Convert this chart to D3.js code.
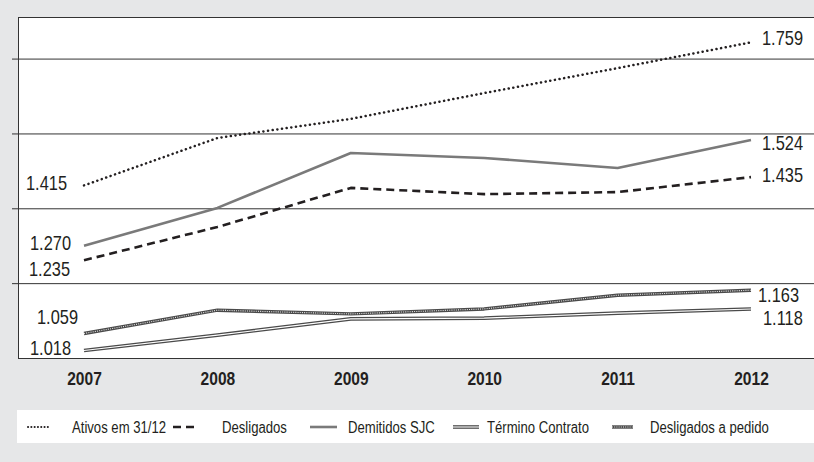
<!DOCTYPE html>
<html><head><meta charset="utf-8">
<script src="https://cdn.jsdelivr.net/npm/d3@7"></script>
<style>
html,body{margin:0;padding:0;background:#e6e7e8;}
svg{display:block;}
text{font-family:"Liberation Sans",Arial,sans-serif;fill:#231f20;}
</style></head>
<body>
<script>
const years = ["2007","2008","2009","2010","2011","2012"];
const seriesNames = ["Ativos em 31/12","Desligados","Demitidos SJC","Término Contrato","Desligados a pedido"];
const ativos     = [1415, 1529, 1575, 1637, 1697, 1759];
const desligados = [1235, 1315, 1409, 1394, 1399, 1435];
const demitidos  = [1270, 1361, 1493, 1481, 1457, 1524];
const termino    = [1018, 1055, 1094, 1096, 1108, 1118];
const aPedido    = [1059, 1115, 1106, 1118, 1151, 1163];
const gridTicks  = [1180, 1360, 1540, 1720];
const yDomain    = [1000, 1820];

const W = 814, H = 462;
const L = 18, R = 814, T = 17, B = 358;
const NARROW = 0.82;

const svg = d3.select("body").append("svg").attr("width", W).attr("height", H);
svg.append("rect").attr("width", W).attr("height", H).attr("fill", "#e6e7e8");
svg.append("rect").attr("x", L).attr("y", T).attr("width", R - L).attr("height", B - T).attr("fill", "#fff");

const x = d3.scalePoint().domain(years).range([84, 751]);
const y = d3.scaleLinear().domain(yDomain).range([B, T]);

function narrowText(px, py, str, size, opts = {}) {
  return svg.append("text")
    .attr("transform", `translate(${px},${py}) scale(${NARROW},1)`)
    .attr("text-anchor", opts.anchor || "start")
    .attr("font-size", size)
    .attr("font-weight", opts.bold ? "bold" : null)
    .text(str);
}

// gridlines + left ticks
const yAxis = d3.axisLeft(y).tickValues(gridTicks).tickSize(6).tickFormat("");
const gy = svg.append("g").attr("transform", `translate(${L},0)`).call(yAxis);
gy.select(".domain").remove();
gy.selectAll(".tick line").attr("stroke", "#333").attr("x2", R - L).attr("x1", -6);

// frame: top, left, bottom
svg.append("line").attr("x1", L).attr("x2", R).attr("y1", T + 0.5).attr("y2", T + 0.5).attr("stroke", "#333");
svg.append("line").attr("x1", L + 0.5).attr("x2", L + 0.5).attr("y1", T).attr("y2", B).attr("stroke", "#333");
svg.append("line").attr("x1", L).attr("x2", R).attr("y1", B + 0.5).attr("y2", B + 0.5).attr("stroke", "#333");

// x axis labels (scaled narrow)
const xAxis = d3.axisBottom(x).tickSize(0).tickPadding(14);
const gx = svg.append("g").attr("transform", `translate(0,${B})`).call(xAxis);
gx.select(".domain").remove();
gx.selectAll("text").attr("font-size", 19).attr("font-weight", "bold")
  .style("font-family", '"Liberation Sans",Arial,sans-serif').attr("fill", "#231f20")
  .attr("transform", `scale(${NARROW},1)`).attr("x", d => 0);
gx.selectAll(".tick").each(function() {
  d3.select(this).select("text").attr("transform", `scale(${NARROW},1)`);
});

const line = d3.line().x((d, i) => x(years[i])).y(d => y(d));

const styles = [
  [{stroke: "#231f20", w: 2.5, dash: "0.1,4.6", cap: "round"}],
  [{stroke: "#231f20", w: 2.6, dash: "8,5", cap: "butt"}],
  [{stroke: "#7a7a7a", w: 2.6}],
  [{stroke: "#4a4a4a", w: 3.6}, {stroke: "#fff", w: 1.1}],
  [{stroke: "#4a4a4a", w: 3.4}, {stroke: "#e8e8e8", w: 1.1, dash: "1,1.2"}]
];
const allSeries = [ativos, desligados, demitidos, termino, aPedido];

allSeries.forEach((s, k) => {
  styles[k].forEach(st => {
    svg.append("path").datum(s).attr("d", line).attr("fill", "none")
      .attr("stroke", st.stroke).attr("stroke-width", st.w)
      .attr("stroke-dasharray", st.dash || null)
      .attr("stroke-linecap", st.cap || "butt")
      .attr("stroke-linejoin", "round");
  });
});

// value labels (first and last)
const fmt = d3.formatLocale({decimal: ",", thousands: ".", grouping: [3], currency: ["R$", ""]}).format(",d");
const leftOff  = [{x: 26, dy: 4.6}, {x: 29, dy: 15.7}, {x: 30, dy: 4.3}, {x: 30, dy: 4.5}, {x: 37, dy: -9.5}];
const rightOff = [{x: 762, dy: 2.7}, {x: 762, dy: 5}, {x: 762, dy: 10}, {x: 763, dy: 16}, {x: 758, dy: 12}];
allSeries.forEach((s, k) => {
  narrowText(leftOff[k].x, y(s[0]) + leftOff[k].dy, fmt(s[0]), 20);
  narrowText(rightOff[k].x, y(s[s.length - 1]) + rightOff[k].dy, fmt(s[s.length - 1]), 20);
});

// legend
svg.append("rect").attr("x", 17).attr("y", 410).attr("width", R - 17).attr("height", 33).attr("fill", "#fff");
const legSym = [[28, 50], [173, 195], [310, 337], [453, 479], [612, 633]];
const legTxt = [72, 222, 348, 487, 650];
const ly = 427;
seriesNames.forEach((name, k) => {
  styles[k].forEach(st => {
    svg.append("line").attr("x1", legSym[k][0]).attr("x2", legSym[k][1]).attr("y1", ly).attr("y2", ly)
      .attr("stroke", st.stroke).attr("stroke-width", k === 0 ? 2 : st.w)
      .attr("stroke-dasharray", k === 0 ? "0.1,3.2" : (st.dash || null))
      .attr("stroke-linecap", st.cap || "butt");
  });
  narrowText(legTxt[k], 433, name, 16);
});
</script>
</body></html>
